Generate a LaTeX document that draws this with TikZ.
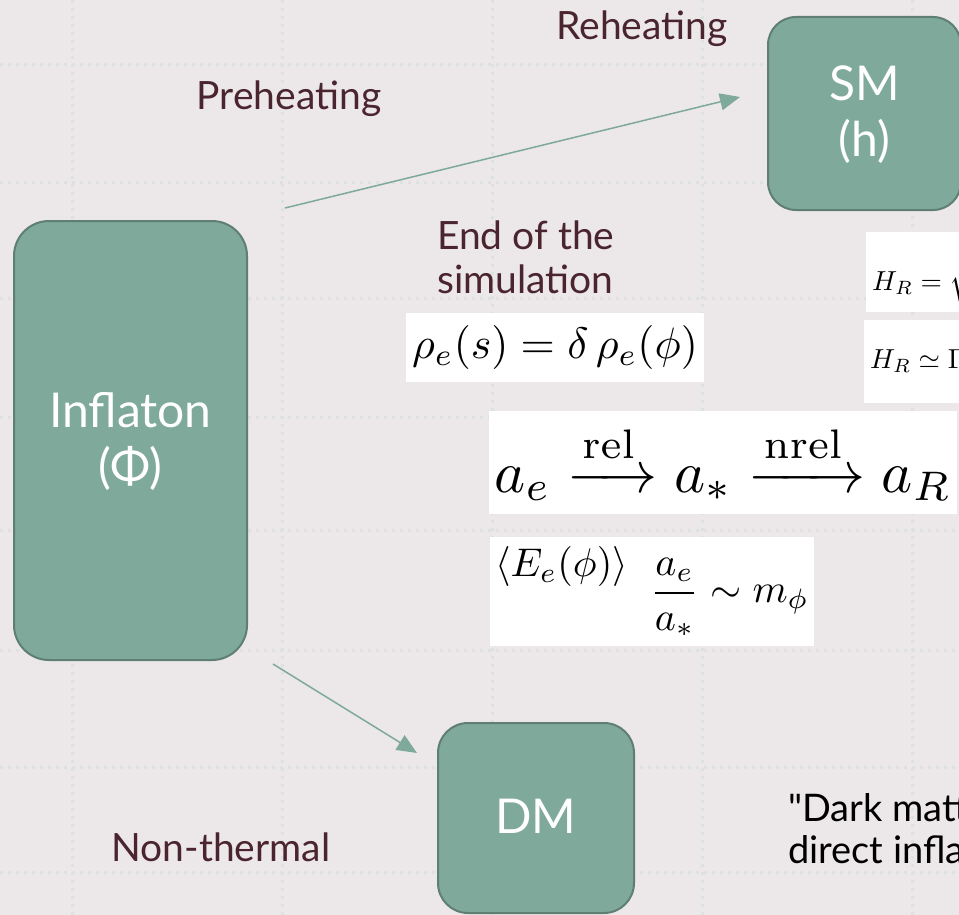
\documentclass[tikz,border=0pt]{standalone}
\usepackage{amsmath}
\usepackage{graphicx}
\usepackage[no-math]{fontspec}
\setmainfont{Lato}
\newfontfamily\plainlato{Lato}
\usetikzlibrary{arrows.meta}
\definecolor{bgc}{HTML}{ECE7E8}
\definecolor{gridc}{HTML}{DCE2DE}
\definecolor{boxfill}{HTML}{7EA99B}
\definecolor{boxdraw}{HTML}{5F7F73}
\definecolor{lab}{HTML}{4A2530}
\newcommand{\boxtext}[1]{\raisebox{-4pt}[\height][\depth]{\begin{tabular}{@{}c@{}}#1\end{tabular}}}
\begin{document}
\begin{tikzpicture}[x=1pt,y=-1pt,
  gridline/.style={gridc, line width=3pt, dash pattern=on 3pt off 5pt},
  greenbox/.style={draw=boxdraw, line width=2pt, fill=boxfill, text=white,
    font=\fontsize{48}{56}\selectfont, inner sep=0pt},
  lbl/.style={text=lab, font=\fontsize{39}{44}\selectfont, inner sep=0pt},
  mathbox/.style={fill=white, inner sep=0pt},
  conn/.style={draw=boxfill, line width=1.5pt, -{Triangle[length=20pt,width=17pt]}}]
\useasboundingbox (0,0) rectangle (959,915);
\clip (0,0) rectangle (959,915);
\fill[bgc] (0,0) rectangle (959,915);
% grid
\foreach \yy in {65,183,298,417,530,650,767,872}
  \draw[gridline] (0,\yy) -- (959,\yy);
\foreach \xx in {72,282,492,702,912}
  \draw[gridline] (\xx,0) -- (\xx,915);
% boxes
\node[greenbox, rounded corners=35pt, minimum width=233pt, minimum height=439pt] (inf) at (130.5,440.5) {\boxtext{Inflaton\\(Φ)}};
\node[greenbox, rounded corners=28pt, minimum width=193pt, minimum height=193pt] (sm) at (864.5,113.5) {\boxtext{SM\\(h)}};
\node[greenbox, rounded corners=30pt, minimum width=196pt, minimum height=190pt] (dm) at (536,818) {\boxtext{DM}};
% labels
\node[lbl] (reh) at (642,29) {Reheating};
\node[lbl] (preh) at (289,99) {Preheating};
\node[lbl, align=left, anchor=west] (end) at (437,257) {End of the\\simulation};
\node[lbl] (nonth) at (221,847) {Non-thermal};
% formulas
\node[mathbox, minimum width=298pt, minimum height=69pt] (f1) at (555,347.5)
  {\scalebox{4.4}{$\rho_e(s) = \delta\,\rho_e(\phi)$}};
\node[mathbox, minimum width=468pt, minimum height=103pt] (f2) at (723,462.5)
  {\scalebox{5.9}{$a_e \xrightarrow{\mathrm{rel}} a_* \xrightarrow{\mathrm{nrel}} a_R$}};
\node[mathbox, minimum width=324pt, minimum height=109pt] (f3) at (652,591.5)
  {\scalebox{4.0}{$\raisebox{6.5pt}{$\langle E_e(\phi)\rangle$}\;\;\displaystyle\frac{a_e}{a_*}\sim m_\phi$}};
\node[mathbox, anchor=north west, minimum width=120pt, minimum height=80pt] (f4box) at (866,232) {};
\node[anchor=base west, inner sep=0pt] (f4) at (872,290)
  {\scalebox{2.75}{$\displaystyle H_R = \sqrt{\frac{\pi^2 g_*}{90}}\,\frac{T_R^2}{M_P}$}};
\node[mathbox, anchor=north west, minimum width=120pt, minimum height=83pt] (f5box) at (864,320) {};
\node[anchor=base west, inner sep=0pt] (f5) at (870,368)
  {\scalebox{2.75}{$H_R \simeq \Gamma_\phi$}};
% quote text
\node[anchor=base west, inner sep=0pt, align=left, font=\plainlato\fontsize{38}{42}\selectfont, text=black] (quote) at (788,863) {"Dark matter from\\direct inflaton decay"};
% connectors
\coordinate (p1s) at (285,208);
\coordinate (p1e) at (740,97);
\coordinate (p2s) at (273,664);
\coordinate (p2e) at (417,753);
\draw[conn] (p1s) -- (p1e);
\draw[conn] (p2s) -- (p2e);
\end{tikzpicture}
\end{document}
